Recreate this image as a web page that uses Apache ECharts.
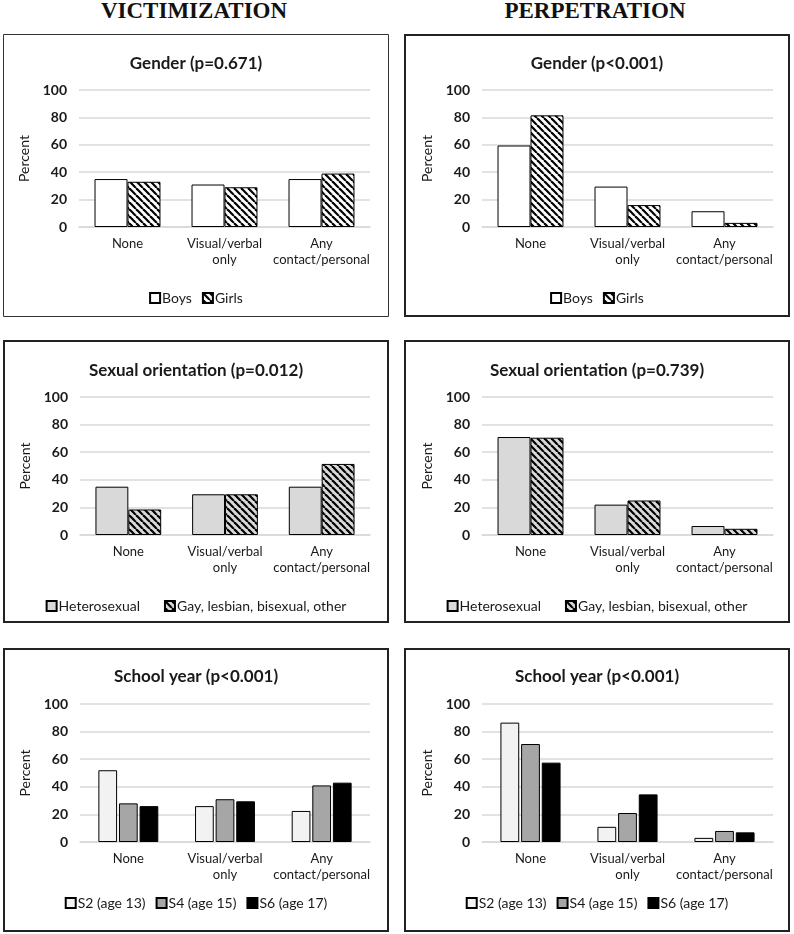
<!DOCTYPE html>
<html>
<head>
<meta charset="utf-8">
<script src="https://cdn.jsdelivr.net/npm/echarts@6/dist/echarts.min.js"></script>
<style>
  body { margin: 0; background: #fff; width: 794px; height: 934px; position: relative; overflow: hidden; }
  .head { position: absolute; top: -2px; width: 300px; text-align: center; font-family: "Liberation Serif", serif; font-weight: bold; font-size: 23px; color: #111; }
  .panel { position: absolute; width: 386px; }
</style>
</head>
<body>
<div class="head" style="left:44px">VICTIMIZATION</div>
<div class="head" style="left:445px">PERPETRATION</div>

<div class="panel" id="vic-gender" style="left:3px;top:34px;height:283px"></div>
<div class="panel" id="perp-gender" style="left:404px;top:34px;height:283px"></div>
<div class="panel" id="vic-orient" style="left:3px;top:340px;height:283px"></div>
<div class="panel" id="perp-orient" style="left:404px;top:340px;height:283px"></div>
<div class="panel" id="vic-year" style="left:3px;top:648px;height:284px"></div>
<div class="panel" id="perp-year" style="left:404px;top:648px;height:284px"></div>

<script>
// 数据
var categories = ['None', 'Visual/verbal\nonly', 'Any\ncontact/personal'];
var yTicks = [0, 20, 40, 60, 80, 100];

var genderNames = ['Boys', 'Girls'];
var victimBoys = [35, 31, 35];
var victimGirls = [33, 29, 39];
var perpBoys = [59.5, 29.5, 11.5];
var perpGirls = [81.5, 16, 3];

var orientNames = ['Heterosexual', 'Gay, lesbian, bisexual, other'];
var victimHetero = [35, 29.5, 35];
var victimGay = [18.5, 29.5, 51.5];
var perpHetero = [71, 22, 6.5];
var perpGay = [70.5, 25, 4.5];

var yearNames = ['S2 (age 13)', 'S4 (age 15)', 'S6 (age 17)'];
var victimS2 = [52, 26, 22.5];
var victimS4 = [28, 31, 41];
var victimS6 = [26, 29.5, 43];
var perpS2 = [86.5, 11, 3];
var perpS4 = [71, 21, 8];
var perpS6 = [57.5, 34.5, 7];

// 斜线填充
function makeHatch(bg) {
    var c = document.createElement('canvas');
    c.width = 7; c.height = 7;
    var ctx = c.getContext('2d');
    ctx.fillStyle = bg;
    ctx.fillRect(0, 0, 7, 7);
    ctx.strokeStyle = '#000';
    ctx.lineWidth = 2.2;
    for (var k = -7; k <= 7; k += 7) {
        ctx.beginPath();
        ctx.moveTo(k, 0);
        ctx.lineTo(k + 7, 7);
        ctx.stroke();
    }
    return { image: c, repeat: 'repeat' };
}

var font = 'Lato';
var textColor = '#1a1a1a';

function makeChart(id, cfg) {
    var el = document.getElementById(id);
    var chart = echarts.init(el);
    var w = el.clientWidth, h = el.clientHeight;
    var series = [];
    for (var i = 0; i < cfg.values.length; i++) {
        series.push({
            name: cfg.names[i],
            type: 'bar',
            data: cfg.values[i],
            barGap: cfg.barGap,
            barCategoryGap: cfg.catGap,
            itemStyle: { color: cfg.colors[i], borderColor: '#000', borderWidth: 1 }
        });
    }
    var option = {
        animation: false,
        textStyle: { fontFamily: font },
        graphic: [{
            type: 'rect',
            shape: { x: cfg.border / 2, y: cfg.border / 2, width: w - cfg.border, height: h - cfg.border },
            style: { fill: 'none', stroke: cfg.borderColor, lineWidth: cfg.border }
        }],
        title: {
            text: cfg.title,
            left: 'center',
            top: cfg.titleTop,
            textStyle: { fontFamily: font, fontSize: 17, fontWeight: 'bold', color: textColor }
        },
        legend: {
            data: cfg.names,
            top: cfg.legendTop,
            left: 'center',
            icon: 'rect',
            itemWidth: 10,
            itemHeight: 10,
            itemGap: cfg.legendGap,
            textStyle: { fontFamily: font, fontSize: 14, color: textColor, padding: [0, 0, 0, -3] }
        },
        grid: {
            left: cfg.left,
            right: cfg.right,
            top: cfg.gridTop,
            height: cfg.gridHeight,
            outerBoundsMode: 'none'
        },
        xAxis: {
            type: 'category',
            data: categories,
            axisTick: { show: false },
            axisLine: { lineStyle: { color: '#d9d9d9', width: 1.5 } },
            axisLabel: { interval: 0, fontSize: 13, lineHeight: 16, margin: 9, color: textColor }
        },
        yAxis: {
            type: 'value',
            min: yTicks[0],
            max: yTicks[yTicks.length - 1],
            interval: yTicks[1] - yTicks[0],
            name: 'Percent',
            nameLocation: 'middle',
            nameGap: 46,
            nameTextStyle: { fontSize: 14, color: textColor },
            axisLine: { show: false },
            axisTick: { show: false },
            axisLabel: { fontSize: 14, fontWeight: 'bold', color: textColor, margin: 12 },
            splitLine: { lineStyle: { color: '#d9d9d9', width: 1.5 } }
        },
        series: series
    };
    chart.setOption(option);
    return chart;
}

var twoBars = { barGap: '0%', catGap: '32%' };
var threeBars = { barGap: '10%', catGap: '38%' };

// 性别
makeChart('vic-gender', {
    title: 'Gender (p=0.671)', names: genderNames, values: [victimBoys, victimGirls],
    colors: ['#ffffff', makeHatch('#ffffff')], barGap: twoBars.barGap, catGap: twoBars.catGap,
    left: 76, right: 19, gridTop: 56, gridHeight: 137, titleTop: 16, legendTop: 252, legendGap: 10,
    border: 1, borderColor: '#333'
});
makeChart('perp-gender', {
    title: 'Gender (p<0.001)', names: genderNames, values: [perpBoys, perpGirls],
    colors: ['#ffffff', makeHatch('#ffffff')], barGap: twoBars.barGap, catGap: twoBars.catGap,
    left: 78, right: 17, gridTop: 56, gridHeight: 137, titleTop: 16, legendTop: 252, legendGap: 10,
    border: 2, borderColor: '#222'
});

// 性取向
makeChart('vic-orient', {
    title: 'Sexual orientation (p=0.012)', names: orientNames, values: [victimHetero, victimGay],
    colors: ['#d9d9d9', makeHatch('#d9d9d9')], barGap: twoBars.barGap, catGap: twoBars.catGap,
    left: 77, right: 19, gridTop: 57, gridHeight: 138, titleTop: 17, legendTop: 254, legendGap: 24,
    border: 2, borderColor: '#222'
});
makeChart('perp-orient', {
    title: 'Sexual orientation (p=0.739)', names: orientNames, values: [perpHetero, perpGay],
    colors: ['#d9d9d9', makeHatch('#d9d9d9')], barGap: twoBars.barGap, catGap: twoBars.catGap,
    left: 78, right: 17, gridTop: 57, gridHeight: 138, titleTop: 17, legendTop: 254, legendGap: 24,
    border: 2, borderColor: '#222'
});

// 年级
makeChart('vic-year', {
    title: 'School year (p<0.001)', names: yearNames, values: [victimS2, victimS4, victimS6],
    colors: ['#f2f2f2', '#a6a6a6', '#000000'], barGap: threeBars.barGap, catGap: threeBars.catGap,
    left: 77, right: 19, gridTop: 56, gridHeight: 138, titleTop: 15, legendTop: 243, legendGap: 10,
    border: 2, borderColor: '#222'
});
makeChart('perp-year', {
    title: 'School year (p<0.001)', names: yearNames, values: [perpS2, perpS4, perpS6],
    colors: ['#f2f2f2', '#a6a6a6', '#000000'], barGap: threeBars.barGap, catGap: threeBars.catGap,
    left: 78, right: 17, gridTop: 56, gridHeight: 138, titleTop: 15, legendTop: 243, legendGap: 10,
    border: 2, borderColor: '#222'
});
</script>
</body>
</html>
